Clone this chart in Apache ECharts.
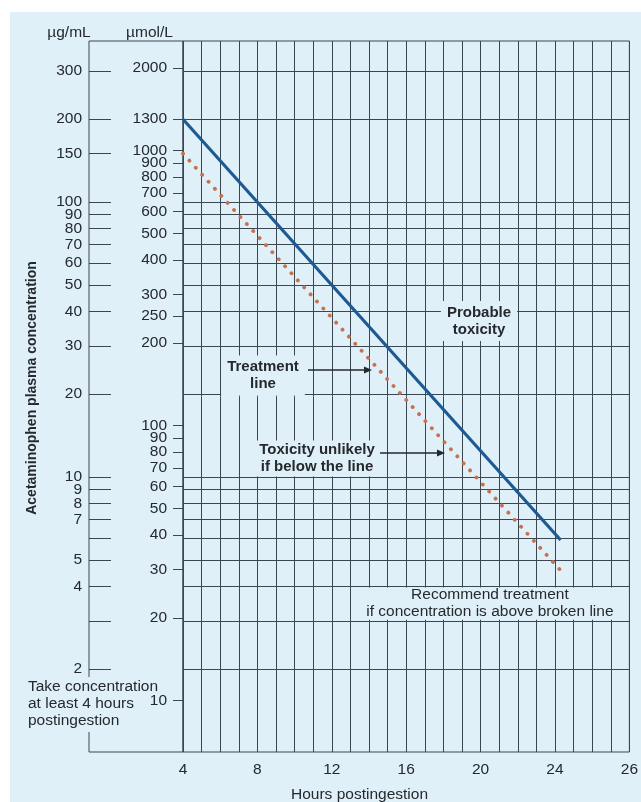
<!DOCTYPE html>
<html>
<head>
<meta charset="utf-8">
<script src="https://cdn.jsdelivr.net/npm/echarts@6/dist/echarts.min.js"></script>
<style>
  html, body { margin: 0; padding: 0; background: #ffffff; }
  #chart { position: absolute; left: 10px; top: 12px; width: 631px; height: 790px; }
</style>
</head>
<body>
<div id="chart"></div>
<script>
// Acetaminophen nomogram: plasma concentration (log scale) against hours after ingestion.

// Hours axis
const hourTicks = [4, 8, 12, 16, 20, 24, 28];
const hourTickLabels = ['4', '8', '12', '16', '20', '24', '26'];

// µg/mL scale: tick marks, printed labels, and horizontal rules across the plot
const massTicks = [300, 200, 150, 100, 90, 80, 70, 60, 50, 40, 30, 20, 10, 9, 8, 7, 6, 5, 4, 3, 2];
const massLabels = [300, 200, 150, 100, 90, 80, 70, 60, 50, 40, 30, 20, 10, 9, 8, 7, 5, 4, 2];
const massRules = [300, 200, 100, 90, 80, 70, 60, 50, 40, 30, 20, 10, 9, 8, 7, 6, 5, 4, 3, 2];

// µmol/L scale
const molarTicks = [2000, 1300, 1000, 900, 800, 700, 600, 500, 400, 300, 250, 200, 100, 90, 80, 70, 60, 50, 40, 30, 20, 10];

// Probable-toxicity line (solid) and treatment line (broken), µg/mL
const probableHours = [4, 24.3];
const probableConc = [200, 5.9];
const treatmentHours = [4, 24.4];
const treatmentConc = [150, 4.5];

const UMOL_PER_UG = 6.5;
const CONC_MIN = 1;
const CONC_MAX = 385;

const BG = '#dff0f9';
const INK = '#25292d';
const RULE = '#3a4650';
const FONT = '"Liberation Sans", Arial, Helvetica, sans-serif';
const FS = 15.5;

const chart = echarts.init(document.getElementById('chart'), null, { renderer: 'canvas' });

const roundLabel = v => String(Math.round(v));

const option = {
  backgroundColor: BG,
  animation: false,
  textStyle: { fontFamily: FONT },
  grid: [
    { left: 173, top: 29, width: 447, height: 711, show: true, borderColor: RULE, borderWidth: 1, backgroundColor: 'transparent' },
    { left: 79, top: 29, width: 94, height: 711, show: true, borderColor: RULE, borderWidth: 1, backgroundColor: 'transparent' }
  ],
  xAxis: [
    {
      gridIndex: 0, type: 'value', min: 4, max: 28, interval: 1,
      axisLine: { show: false }, axisTick: { show: false },
      splitLine: { show: true, lineStyle: { color: RULE, width: 1 } },
      axisLabel: {
        customValues: hourTicks,
        formatter: v => hourTickLabels[hourTicks.indexOf(Math.round(v))],
        color: INK, fontSize: FS, margin: 10, fontFamily: FONT
      }
    },
    { gridIndex: 1, type: 'value', min: 0, max: 1, show: false }
  ],
  yAxis: [
    {
      gridIndex: 0, type: 'log', logBase: 10, min: CONC_MIN, max: CONC_MAX, position: 'right',
      axisLine: { show: false }, axisLabel: { show: false },
      axisTick: { show: false, customValues: massRules },
      splitLine: { show: true, lineStyle: { color: RULE, width: 1 } }
    },
    {
      gridIndex: 0, type: 'log', logBase: 10, min: CONC_MIN * UMOL_PER_UG, max: CONC_MAX * UMOL_PER_UG,
      position: 'left', offset: 0,
      axisLine: { show: false },
      axisTick: { show: true, customValues: molarTicks, length: 10, lineStyle: { color: RULE } },
      axisLabel: { customValues: molarTicks, formatter: roundLabel, color: INK, fontSize: FS, margin: 16, fontFamily: FONT },
      splitLine: { show: false }
    },
    {
      gridIndex: 1, type: 'log', logBase: 10, min: CONC_MIN, max: CONC_MAX, position: 'left',
      axisLine: { show: false },
      axisTick: { show: true, inside: true, length: 22, customValues: massTicks, lineStyle: { color: RULE } },
      axisLabel: { customValues: massLabels, formatter: roundLabel, color: INK, fontSize: FS, margin: 7, fontFamily: FONT },
      splitLine: { show: false }
    }
  ],
  series: [
    {
      name: 'Probable toxicity',
      type: 'line', xAxisIndex: 0, yAxisIndex: 0, symbol: 'none', z: 5,
      data: probableHours.map((h, i) => [h, probableConc[i]]),
      lineStyle: { color: '#1d5a93', width: 3.2 }
    },
    {
      name: 'Treatment line',
      type: 'line', xAxisIndex: 0, yAxisIndex: 0, symbol: 'none', z: 5,
      data: treatmentHours.map((h, i) => [h, treatmentConc[i]]),
      lineStyle: { color: '#c7724f', width: 3.8, type: [0.1, 9.4], cap: 'round' }
    }
  ]
};

chart.setOption(option);

// Annotation layer
const toPx = p => chart.convertToPixel({ xAxisIndex: 0, yAxisIndex: 0 }, p);
const boxA = toPx([13, 4]);
const boxB = toPx([28, 3]);

function arrow(x1, x2, y) {
  return {
    type: 'group', z: 100,
    children: [
      { type: 'line', shape: { x1: x1, y1: y, x2: x2 - 6, y2: y }, style: { stroke: INK, lineWidth: 1.3 } },
      { type: 'polygon', shape: { points: [[x2, y], [x2 - 8, y - 3.5], [x2 - 8, y + 3.5]] }, style: { fill: INK } }
    ]
  };
}

function label(x, y, text, font, extra) {
  return {
    type: 'text', x: x, y: y, z: 100,
    style: Object.assign({ text: text, font: font, fill: INK, align: 'center', verticalAlign: 'middle' }, extra || {})
  };
}

const bold = 'bold 15px ' + FONT;
const plain = FS + 'px ' + FONT;

chart.setOption({
  graphic: [
    label(59, 21, 'µg/mL', plain),
    label(139.5, 21, 'µmol/L', plain),
    Object.assign(label(22, 376, 'Acetaminophen plasma concentration', 'bold 14px ' + FONT), { rotation: Math.PI / 2 }),
    label(349.5, 783, 'Hours postingestion', plain),
    label(469, 309, 'Probable\ntoxicity', bold, { lineHeight: 17, backgroundColor: BG, padding: [3, 6] }),
    label(253, 363.5, 'Treatment\nline', bold, { lineHeight: 17, backgroundColor: BG, padding: [3, 6] }),
    arrow(298, 362, 358),
    label(307, 446.5, 'Toxicity unlikely\nif below the line', bold, { lineHeight: 17, backgroundColor: BG, padding: [1, 3] }),
    arrow(370, 435, 441),
    {
      type: 'rect', z: 99, silent: true,
      shape: { x: boxA[0] + 1, y: boxA[1] + 1, width: boxB[0] - boxA[0] - 2, height: boxB[1] - boxA[1] - 2 },
      style: { fill: BG }
    },
    label((boxA[0] + boxB[0]) / 2, (boxA[1] + boxB[1]) / 2, 'Recommend treatment\nif concentration is above broken line', plain, { lineHeight: 17 }),
    { type: 'rect', z: 99, silent: true, shape: { x: 75, y: 665, width: 8, height: 55 }, style: { fill: BG } },
    label(18, 692, 'Take concentration\nat least 4 hours\npostingestion', plain, { align: 'left', lineHeight: 17 })
  ]
});
</script>
</body>
</html>
